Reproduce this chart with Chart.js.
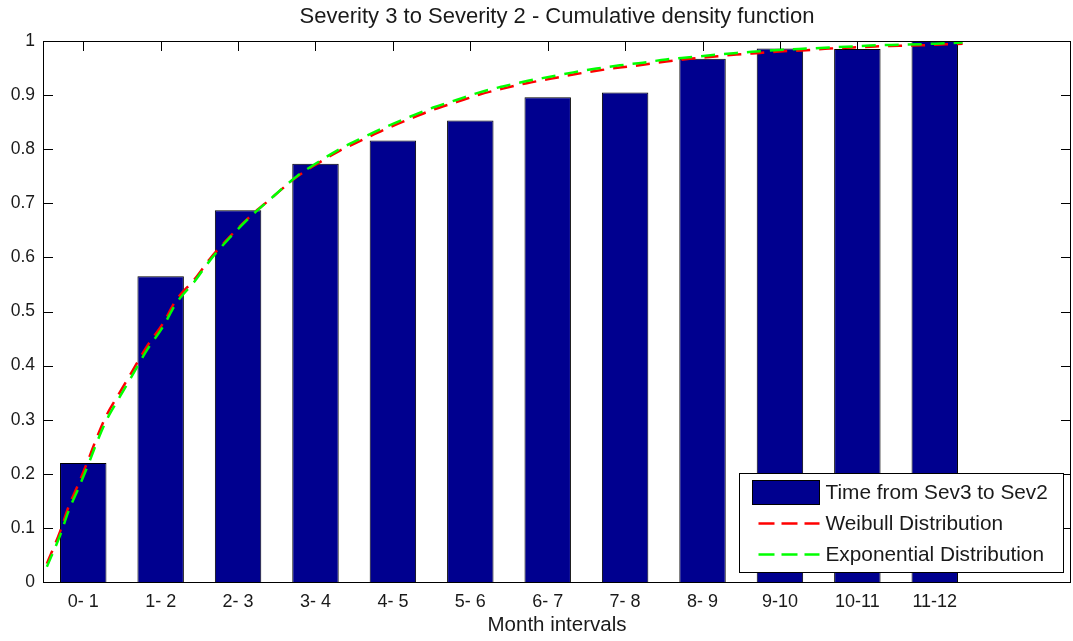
<!DOCTYPE html>
<html>
<head>
<meta charset="utf-8">
<script src="https://cdn.jsdelivr.net/npm/chart.js@4.4.1/dist/chart.umd.min.js"></script>
<style>
  body { margin: 0; background: #fff; }
  #wrap { width: 1073px; height: 641px; }
</style>
</head>
<body>
<div id="wrap"><canvas id="miGrafico" width="1073" height="641"></canvas></div>
<script>
const titulo = 'Severity 3 to Severity 2 - Cumulative density function';
const ejeX = 'Month intervals';
const intervalos = ['0- 1', '1- 2', '2- 3', '3- 4', '4- 5', '5- 6', '6- 7', '7- 8', '8- 9', '9-10', '10-11', '11-12'];
const posiciones = [1, 2, 3, 4, 5, 6, 7, 8, 9, 10, 11, 12];
const acumulado = [0.220, 0.565, 0.687, 0.773, 0.816, 0.853, 0.896, 0.905, 0.967, 0.986, 0.985, 1.0];

// curvas (posicion en eje x, valor)
const curvaX = [0.53, 0.70, 0.81, 0.94, 1.07, 1.17, 1.30, 1.45, 1.63, 1.82, 2.03, 2.20, 2.44, 2.64, 2.89, 3.15,
  3.41, 3.76, 4.01, 4.31, 4.62, 4.92, 5.22, 5.52, 5.82, 6.12, 6.42, 6.73, 7.03, 7.33, 7.63, 7.93,
  8.23, 8.53, 8.83, 9.13, 9.44, 9.74, 10.04, 10.34, 10.64, 10.94, 11.24, 11.54, 11.83, 12.15, 12.36];
const weibull = [0.034, 0.093, 0.139, 0.182, 0.228, 0.265, 0.308, 0.345, 0.389, 0.435, 0.478, 0.521, 0.560, 0.598, 0.638, 0.675,
  0.707, 0.749, 0.772, 0.797, 0.818, 0.838, 0.856, 0.873, 0.887, 0.901, 0.912, 0.922, 0.930, 0.938, 0.945, 0.951,
  0.956, 0.962, 0.967, 0.971, 0.975, 0.978, 0.981, 0.983, 0.986, 0.988, 0.990, 0.991, 0.992, 0.994, 0.995];
const exponencial = [0.028, 0.086, 0.131, 0.174, 0.219, 0.256, 0.299, 0.337, 0.381, 0.428, 0.472, 0.515, 0.556, 0.595, 0.636, 0.674,
  0.707, 0.750, 0.774, 0.800, 0.822, 0.842, 0.860, 0.877, 0.891, 0.905, 0.916, 0.926, 0.934, 0.942, 0.949, 0.955,
  0.960, 0.966, 0.970, 0.974, 0.978, 0.981, 0.984, 0.986, 0.988, 0.990, 0.992, 0.993, 0.994, 0.996, 0.997];
const yTicks = [0, 0.1, 0.2, 0.3, 0.4, 0.5, 0.6, 0.7, 0.8, 0.9, 1];
const leyenda = ['Time from Sev3 to Sev2', 'Weibull Distribution', 'Exponential Distribution'];

const AZUL = '#00008f';
const ROJO = '#ff0000';
const VERDE = '#00ff00';
const TEXTO = '#1a1a1a';
const FUENTE = '"Liberation Sans", Arial, sans-serif';

const marco = {
  id: 'marco',
  beforeDatasetsDraw(chart) {
    const { ctx, chartArea: a, scales: { x, y } } = chart;
    ctx.save();
    ctx.strokeStyle = '#000';
    ctx.lineWidth = 1;
    ctx.beginPath();
    posiciones.forEach(v => {
      const px = Math.round(x.getPixelForValue(v)) + 0.5;
      ctx.moveTo(px, a.top); ctx.lineTo(px, a.top + 10);
      ctx.moveTo(px, a.bottom); ctx.lineTo(px, a.bottom - 10);
    });
    yTicks.forEach(v => {
      const py = Math.round(y.getPixelForValue(v)) + 0.5;
      ctx.moveTo(a.left, py); ctx.lineTo(a.left + 10, py);
      ctx.moveTo(a.right, py); ctx.lineTo(a.right - 10, py);
    });
    ctx.stroke();
    ctx.restore();
  },
  afterDatasetsDraw(chart) {
    const { ctx, chartArea: a } = chart;
    ctx.save();
    ctx.strokeStyle = '#000';
    ctx.lineWidth = 1;
    ctx.strokeRect(Math.round(a.left) + 0.5, Math.round(a.top) + 0.5,
      Math.round(a.right - a.left) - 1, Math.round(a.bottom - a.top));

    // titulo y etiqueta del eje x
    const cx = (a.left + a.right) / 2;
    ctx.fillStyle = TEXTO;
    ctx.textAlign = 'center';
    ctx.textBaseline = 'middle';
    ctx.font = '22px ' + FUENTE;
    ctx.fillText(titulo, cx, 17);
    ctx.font = '20.5px ' + FUENTE;
    ctx.fillText(ejeX, cx, 625);

    // leyenda
    const lw = 324, lh = 99;
    const lx = Math.round(a.right - 8 - lw) + 0.5;
    const ly = Math.round(a.bottom - 10 - lh) + 0.5;
    ctx.fillStyle = '#fff';
    ctx.fillRect(lx, ly, lw, lh);
    ctx.strokeRect(lx, ly, lw, lh);
    const filas = [ly + 19, ly + 50, ly + 81];
    ctx.fillStyle = AZUL;
    ctx.fillRect(lx + 13, filas[0] - 12, 67, 24);
    ctx.strokeRect(lx + 13, filas[0] - 12, 67, 24);
    [ROJO, VERDE].forEach((c, i) => {
      ctx.beginPath();
      ctx.strokeStyle = c;
      ctx.lineWidth = 2.5;
      ctx.setLineDash([16, 7]);
      ctx.moveTo(lx + 19, filas[i + 1]);
      ctx.lineTo(lx + 80, filas[i + 1]);
      ctx.stroke();
    });
    ctx.setLineDash([]);
    ctx.fillStyle = TEXTO;
    ctx.textAlign = 'left';
    ctx.font = '20.8px ' + FUENTE;
    leyenda.forEach((t, i) => ctx.fillText(t, lx + 86, filas[i] + 1));
    ctx.restore();
  }
};

new Chart(document.getElementById('miGrafico'), {
  type: 'bar',
  data: {
    datasets: [
      {
        type: 'bar',
        label: leyenda[0],
        data: posiciones.map((p, i) => ({ x: p, y: acumulado[i] })),
        backgroundColor: AZUL,
        borderColor: '#000',
        borderWidth: 1,
        barPercentage: 0.6,
        categoryPercentage: 1,
        order: 3
      },
      {
        type: 'line',
        label: leyenda[1],
        data: curvaX.map((p, i) => ({ x: p, y: weibull[i] })),
        borderColor: ROJO,
        borderWidth: 2.5,
        borderDash: [14, 9],
        pointRadius: 0,
        fill: false,
        cubicInterpolationMode: 'monotone',
        order: 2
      },
      {
        type: 'line',
        label: leyenda[2],
        data: curvaX.map((p, i) => ({ x: p, y: exponencial[i] })),
        borderColor: VERDE,
        borderWidth: 2.5,
        borderDash: [14, 9],
        pointRadius: 0,
        fill: false,
        cubicInterpolationMode: 'monotone',
        order: 1
      }
    ]
  },
  options: {
    responsive: false,
    animation: false,
    layout: { padding: { top: 41, right: 2, left: 0, bottom: 0 } },
    plugins: {
      legend: { display: false },
      title: { display: false },
      tooltip: { enabled: false }
    },
    scales: {
      x: {
        type: 'linear',
        min: 0.48,
        max: 13.76,
        offset: false,
        grid: { display: false, drawTicks: false, offset: false },
        border: { display: false },
        afterBuildTicks: s => { s.ticks = posiciones.map(v => ({ value: v })); },
        afterFit: s => { s.height = 59; },
        ticks: {
          autoSkip: false,
          maxRotation: 0,
          padding: 9,
          color: TEXTO,
          font: { family: FUENTE, size: 18 },
          callback: (v, i) => intervalos[i]
        }
      },
      y: {
        min: 0,
        max: 1,
        grid: { display: false, drawTicks: false },
        border: { display: false },
        afterBuildTicks: s => { s.ticks = yTicks.map(v => ({ value: v })); },
        afterFit: s => { s.width = 43; },
        ticks: {
          padding: 8,
          color: TEXTO,
          font: { family: FUENTE, size: 17.5 },
          callback: v => String(Number(v.toFixed(1)))
        }
      }
    }
  },
  plugins: [marco]
});
</script>
</body>
</html>
